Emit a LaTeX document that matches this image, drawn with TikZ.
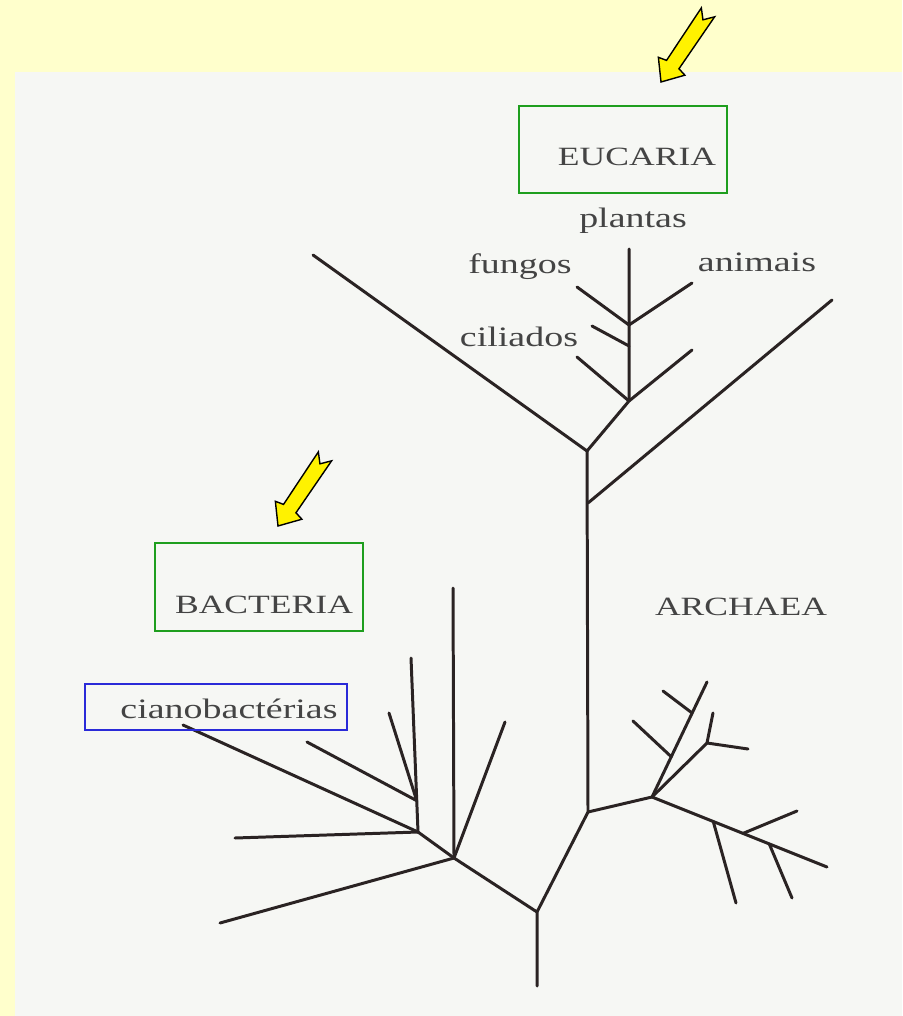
\documentclass[tikz,border=0pt]{standalone}
\usepackage{fontspec}
\newfontfamily\labfont{Liberation Serif}[FakeStretch=1.35]
\usetikzlibrary{positioning,calc}
\definecolor{paleyellow}{HTML}{FFFFCC}
\definecolor{paper}{HTML}{F6F7F4}
\definecolor{inkgray}{HTML}{444444}
\definecolor{branch}{HTML}{2A2323}
\definecolor{boxgreen}{HTML}{1E9E1E}
\definecolor{boxblue}{HTML}{2A2AD8}

\begin{document}
\begin{tikzpicture}[x=0.02cm, y=-0.02cm,
    lbl/.style={text=inkgray, font=\labfont\fontsize{16}{18}\selectfont,
      anchor=base, inner sep=0pt},
    grp/.style={text=inkgray, font=\labfont\fontsize{15}{18}\selectfont,
      anchor=base, inner sep=0pt},
    br/.style={draw=branch, line width=1.7pt, line cap=round, line join=round},
    gbox/.style={draw=boxgreen, line width=1.1pt},
    bbox/.style={draw=boxblue, line width=1.1pt},
    yarrow/.pic={\draw[fill=yellow, line width=0.8pt]
      (0,0) -- (-19,16) -- (-21,7.5) -- (-84,8) -- (-75,0)
      -- (-84,-8) -- (-21,-7.5) -- (-19,-16) -- cycle;}
  ]
    %% fundo
    \fill[paleyellow] (0,0) rectangle (902,1016);
    \fill[paper] (15,72) rectangle (902,1016);

    %% tronco
    \coordinate (root) at (537,986);
    \coordinate (j0) at (537,912);
    \coordinate (t0) at (588,812);
    \coordinate (ja) at (588,503);
    \coordinate (j1) at (587,451);
    \coordinate (eL) at (313,255);
    \coordinate (aR) at (832,300);
    \draw[br] (root) -- (j0) -- (t0) -- (j1) -- (eL);
    \draw[br] (ja) -- (aR);

    %% Eucaria (cima)
    \coordinate (e1) at (629,401);
    \coordinate (eTop) at (629,249);
    \coordinate (e1L) at (577,357);
    \coordinate (e1R) at (692,350);
    \coordinate (e3) at (629,346);
    \coordinate (e3L) at (592,326);
    \coordinate (e2) at (629,325);
    \coordinate (e2L) at (577,287);
    \coordinate (e2R) at (692,283);
    \draw[br] (j1) -- (e1) -- (eTop);
    \draw[br] (e1L) -- (e1) -- (e1R);
    \draw[br] (e3L) -- (e3);
    \draw[br] (e2L) -- (e2) -- (e2R);

    %% Bacteria (esquerda)
    \coordinate (b1) at (454,858);
    \coordinate (bTop) at (453,588);
    \coordinate (bR) at (505,722);
    \coordinate (bLow) at (220,923);
    \coordinate (b2) at (418,832);
    \coordinate (b2L) at (235,838);
    \coordinate (cia) at (183,725);
    \coordinate (bV) at (411,658);
    \coordinate (b3) at ($(b2)!0.18!(bV)$);
    \coordinate (b3a) at (389,713);
    \coordinate (b3b) at (307,742);
    \draw[br] (j0) -- (b1) -- (bTop);
    \draw[br] (b1) -- (bR);
    \draw[br] (b1) -- (bLow);
    \draw[br] (b1) -- (b2) -- (bV);
    \draw[br] (b2) -- (b2L);
    \draw[br] (b2) -- (cia);
    \draw[br] (b3a) -- (b3) -- (b3b);

    %% Archaea (direita)
    \coordinate (a1) at (652,797);
    \coordinate (a1T) at (707,682);
    \coordinate (a1R) at (827,867);
    \coordinate (a1a) at ($(a1)!0.35!(a1T)$);
    \coordinate (a1b) at ($(a1)!0.73!(a1T)$);
    \coordinate (a1aL) at (633,721);
    \coordinate (a1bL) at (663,691);
    \coordinate (a2) at (707,743);
    \coordinate (a2U) at (713,713);
    \coordinate (a2R) at (748,749);
    \coordinate (a3) at ($(a1)!0.35!(a1R)$);
    \coordinate (a4) at ($(a1)!0.52!(a1R)$);
    \coordinate (a5) at ($(a1)!0.67!(a1R)$);
    \coordinate (a3D) at (736,903);
    \coordinate (a4U) at (797,811);
    \coordinate (a5D) at (792,898);
    \draw[br] (t0) -- (a1) -- (a1T);
    \draw[br] (a1aL) -- (a1a);
    \draw[br] (a1bL) -- (a1b);
    \draw[br] (a1) -- (a2) -- (a2U);
    \draw[br] (a2) -- (a2R);
    \draw[br] (a1) -- (a1R);
    \draw[br] (a3) -- (a3D);
    \draw[br] (a4) -- (a4U);
    \draw[br] (a5) -- (a5D);

    %% rotulos
    \node[grp] (euc) at (637,166) {EUCARIA};
    \node[grp] (bac) at (264,613) {BACTERIA};
    \node[grp] (arc) at (741,615) {ARCHAEA};
    \node[lbl] (pla) at (633,228) {plantas};
    \node[lbl] (fun) at (520,274) {fungos};
    \node[lbl] (ani) at (757,272) {animais};
    \node[lbl] (cil) at (519,346) {ciliados};
    \node[lbl] (cian) at (229,718) {cianobactérias};

    %% caixas
    \draw[gbox] (519,106) rectangle (727,193);
    \draw[gbox] (155,543) rectangle (363,631);
    \draw[bbox] (85,684) rectangle (347,730);

    %% setas
    \pic[rotate=236] at (661,82) {yarrow};
    \pic[rotate=236] at (278,526) {yarrow};
  \end{tikzpicture}
\end{document}
